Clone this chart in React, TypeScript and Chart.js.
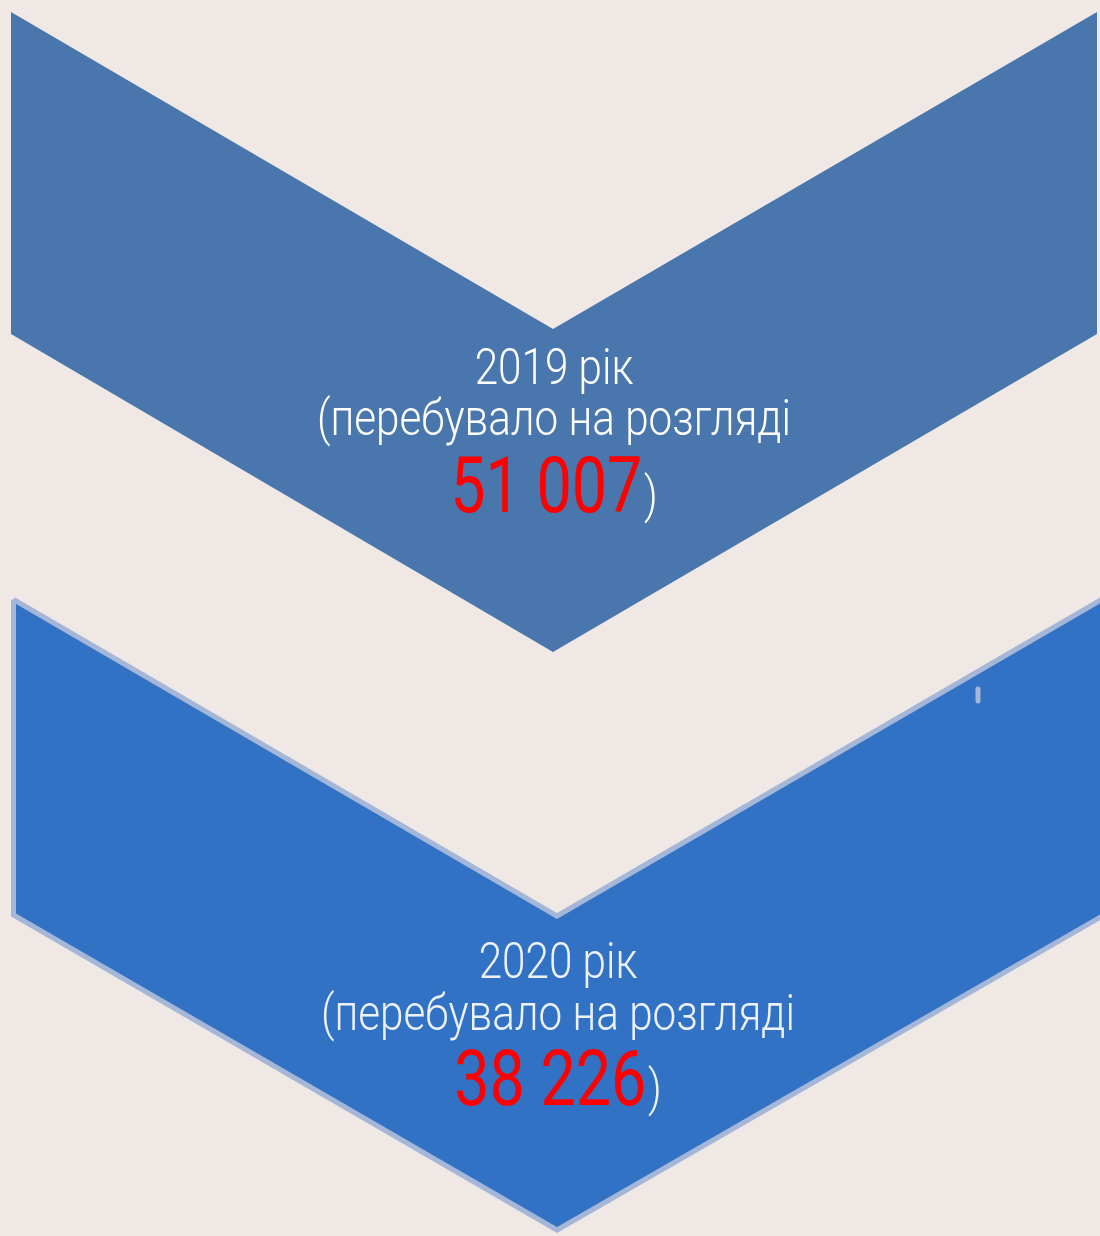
import React, { useEffect, useRef } from "react";
import { Chart, registerables } from "chart.js";

Chart.register(...registerables);

// Data
const years = ["2019", "2020"];
const caseCounts = [51007, 38226];
const yearSuffix = " рік";
const subtitle = "(перебувало на розгляді";

// Shapes (chevrons), in page coordinates
const chevron1 = [
  { x: 11, y: 12 }, { x: 553, y: 329 }, { x: 1097, y: 12 }, { x: 1097, y: 334 },
  { x: 553, y: 652 }, { x: 11, y: 334 }, { x: 11, y: 12 },
];
const chevron2 = [
  { x: 13.5, y: 599.5 }, { x: 557, y: 916 }, { x: 1106, y: 597 }, { x: 1106, y: 914 },
  { x: 557, y: 1230 }, { x: 13.5, y: 915 }, { x: 13.5, y: 599.5 },
];
const cursorMark = [{ x: 978, y: 689 }, { x: 978, y: 701 }];

// Text layout: center x and baselines per block
const blockCenters = [554, 558];
const blockBaselines = [
  [384, 435, 512],
  [978, 1030, 1105],
];
const textColors = ["#ffffff", "#eef2f8"];

const fmt = (n: number) => String(n).replace(/\B(?=(\d{3})+(?!\d))/g, " ");

const textPlugin = {
  id: "chevronText",
  afterDatasetsDraw(chart: any) {
    const ctx = chart.ctx as CanvasRenderingContext2D;
    const xs = chart.scales.x;
    const ys = chart.scales.y;
    const smallFont = "300 50px Roboto";
    const bigFont = "400 78px Roboto";
    ctx.save();
    ctx.font = smallFont;
    const sx = 474 / ctx.measureText(subtitle).width;
    ctx.restore();
    const numScale = 0.955;

    years.forEach((yr, i) => {
      const cx = xs.getPixelForValue(blockCenters[i]);
      const [b1, b2, b3] = blockBaselines[i].map((v) => ys.getPixelForValue(v));
      ctx.save();
      ctx.textBaseline = "alphabetic";
      ctx.textAlign = "center";
      ctx.translate(cx, 0);
      ctx.scale(sx, 1);
      ctx.fillStyle = textColors[i];
      ctx.font = smallFont;
      ctx.fillText(yr + yearSuffix, 0, b1);
      ctx.fillText(subtitle, 0, b2);
      // number + closing paren
      const num = fmt(caseCounts[i]);
      ctx.font = bigFont;
      const wn = ctx.measureText(num).width * numScale;
      ctx.font = smallFont;
      const wp = ctx.measureText(")").width + 2;
      const total = wn + wp;
      const x0 = -total / 2;
      ctx.textAlign = "left";
      ctx.save();
      ctx.translate(x0, 0);
      ctx.scale(numScale, 1);
      ctx.font = bigFont;
      ctx.fillStyle = "#ff0000";
      ctx.fillText(num, 0, b3);
      ctx.restore();
      ctx.font = smallFont;
      ctx.fillStyle = textColors[i];
      ctx.fillText(")", x0 + wn + 2, b3);
      ctx.restore();
    });
  },
};

export default function App() {
  const ref = useRef<HTMLCanvasElement | null>(null);
  useEffect(() => {
    document.body.style.margin = "0";
    document.body.style.background = "#efe8e4";
    if (!ref.current) return;
    const chart = new Chart(ref.current, {
      type: "scatter",
      data: {
        datasets: [
          {
            data: chevron1,
            showLine: true,
            fill: "shape",
            backgroundColor: "#4876ad",
            borderColor: "#4876ad",
            borderWidth: 0,
            pointRadius: 0,
            tension: 0,
            order: 2,
          },
          {
            data: chevron2,
            showLine: true,
            fill: "shape",
            backgroundColor: "#3272c4",
            borderColor: "#a5b7d9",
            borderWidth: 5,
            borderJoinStyle: "miter",
            pointRadius: 0,
            tension: 0,
            order: 1,
          },
          {
            data: cursorMark,
            showLine: true,
            fill: false,
            borderColor: "#a5b7d9",
            borderWidth: 5,
            borderCapStyle: "round",
            pointRadius: 0,
            order: 0,
          },
        ] as any,
      },
      options: {
        animation: false,
        responsive: false,
        maintainAspectRatio: false,
        layout: { padding: 0 },
        plugins: { legend: { display: false }, tooltip: { enabled: false } },
        scales: {
          x: { type: "linear", min: 0, max: 1100, display: false },
          y: { type: "linear", min: 0, max: 1236, reverse: true, display: false },
        },
      } as any,
      plugins: [textPlugin],
    });
    return () => chart.destroy();
  }, []);
  return (
    <div style={{ position: "absolute", left: 0, top: 0, width: 1100, height: 1236, background: "#efe8e4" }}>
      <canvas ref={ref} width={1100} height={1236} style={{ display: "block" }} />
    </div>
  );
}
